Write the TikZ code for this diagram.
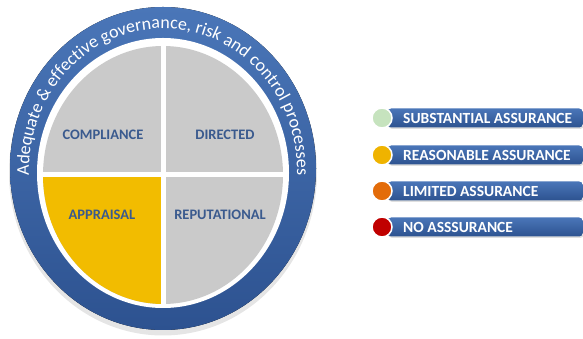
\documentclass[tikz,border=0pt]{standalone}
\usepackage{fontspec}
\setmainfont{Carlito}
\usetikzlibrary{decorations.text,shadows}

\definecolor{ringlight}{HTML}{4A76B8}
\definecolor{ringdark}{HTML}{2D5290}
\definecolor{quadgray}{HTML}{CACACA}
\definecolor{quadyellow}{HTML}{F2BC00}
\definecolor{labelblue}{HTML}{3A5A8E}
\definecolor{subgreen}{HTML}{C6E3BE}
\definecolor{reasyellow}{HTML}{EFB300}
\definecolor{limorange}{HTML}{E36C0A}
\definecolor{nored}{HTML}{C00000}

\newcommand{\ringfont}{\fontsize{18}{19}\selectfont}

\tikzset{
  quadlabel/.style={font=\fontsize{14.5}{16}\selectfont\bfseries, text=labelblue},
  bar/.style={rectangle, rounded corners=4pt, minimum width=196pt, minimum height=19pt,
    anchor=west, top color=ringlight, bottom color=ringdark,
    drop shadow={opacity=0.25, shadow xshift=1pt, shadow yshift=-1.5pt}},
  bartext/.style={anchor=west, text=white, inner sep=0pt,
    font=\fontsize{15.5}{17}\selectfont\bfseries},
  dot/.style={circle, minimum size=20pt, inner sep=0pt, draw=white, line width=1.5pt},
}

\begin{document}
\begin{tikzpicture}[x=1pt,y=1pt]
    \useasboundingbox (0,0) rectangle (583,339);

    % outer ring
    \fill[gray!20] (163,166.5) ellipse [x radius=154, y radius=163];
    \fill[top color=ringlight, bottom color=ringdark] (163,170.5) ellipse [x radius=153, y radius=161.5];
    \fill[white] (163,166) ellipse [x radius=126, y radius=135];

    \path[decorate, decoration={text along path, text align=center, text color=white,
        text={|\ringfont|Adequate {\&} effective governance, risk and control processes}}]
        (163,168) ++(194:134 and 142.5) arc[start angle=194, end angle=-14, x radius=134, y radius=142.5];

    % quadrants
    \begin{scope}
        \clip (163,164) ellipse [x radius=120, y radius=129];
        \fill[quadgray] (40,30) rectangle (290,300);
        \fill[quadyellow] (40,30) rectangle (163,164);
    \end{scope}
    \draw[white, line width=5] (163,32) -- (163,297);
    \draw[white, line width=5] (40,164) -- (286,164);

    \node[quadlabel] (compliance) at (103,204) {COMPLIANCE};
    \node[quadlabel] (directed) at (225,204) {DIRECTED};
    \node[quadlabel] (appraisal) at (102,124) {APPRAISAL};
    \node[quadlabel] (reputational) at (220,124) {REPUTATIONAL};

    % legend
    \node[bar] (subbar) at (387,221) {};
    \node[dot, fill=subgreen] (subdot) at (382,221) {};
    \node[bartext] (subtext) at (403,221) {SUBSTANTIAL ASSURANCE};

    \node[bar] (reasbar) at (387,184) {};
    \node[dot, fill=reasyellow] (reasdot) at (382,184) {};
    \node[bartext] (reastext) at (403,184) {REASONABLE ASSURANCE};

    \node[bar] (limbar) at (387,148) {};
    \node[dot, fill=limorange] (limdot) at (382,148) {};
    \node[bartext] (limtext) at (403,148) {LIMITED ASSURANCE};

    \node[bar] (nobar) at (387,112) {};
    \node[dot, fill=nored] (nodot) at (382,112) {};
    \node[bartext] (notext) at (403,112) {NO ASSSURANCE};
\end{tikzpicture}
\end{document}
